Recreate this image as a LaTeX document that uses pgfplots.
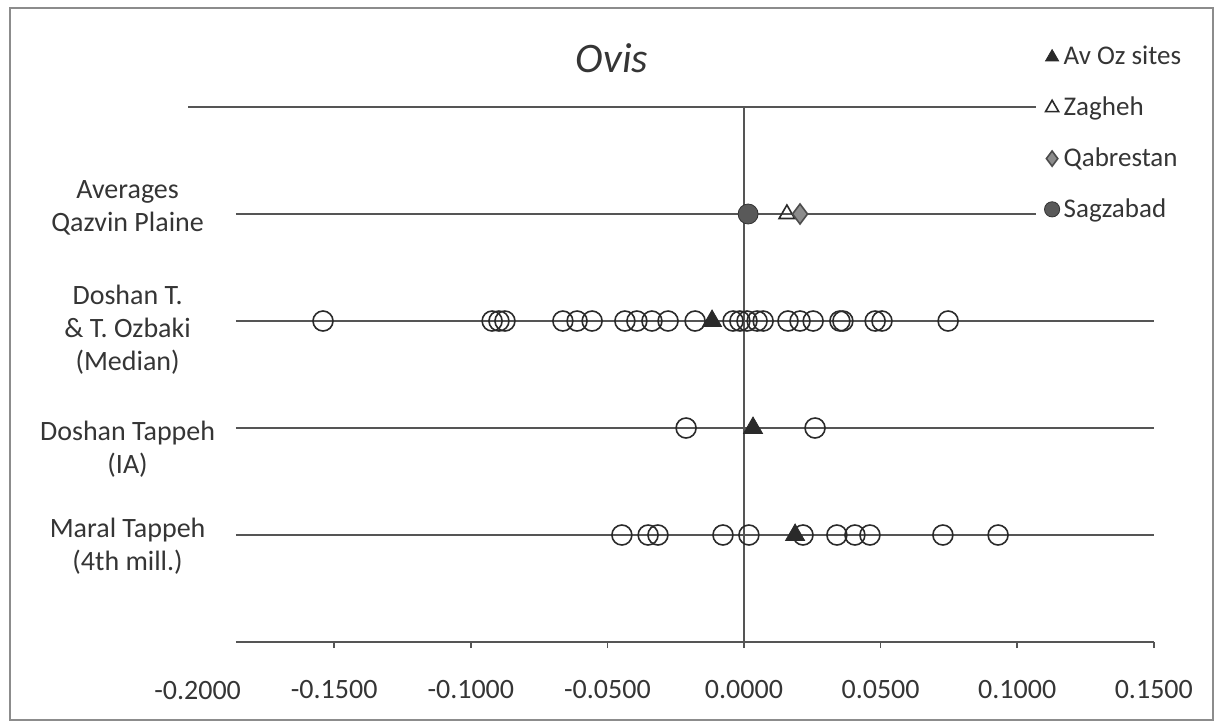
\documentclass[border=0pt]{standalone}
\usepackage{pgfplots}
\pgfplotsset{compat=1.18}
\usepackage{fontspec}
\setmainfont{Carlito}
\definecolor{txt}{HTML}{353535}
\definecolor{ln}{HTML}{555555}
\definecolor{mk}{HTML}{2A2A2A}
\begin{document}
\begin{tikzpicture}
\useasboundingbox (0,0) rectangle (609.5pt,-363.5pt);
\draw[color=black!45, line width=1pt] (5pt,-4pt) rectangle (606.5pt,-360pt);
\node[font=\itshape\fontsize{21}{25}\selectfont, text=txt] at (306pt,-29pt) {Ovis};
\begin{axis}[
  at={(98.8pt,-321pt)}, anchor=south west,
  scale only axis, width=478.1pt, height=267.5pt,
  xmin=-0.2, xmax=0.15, ymin=0, ymax=5,
  clip=false,
  axis line style={draw=none},
  xtick={-0.15,-0.1,-0.05,0,0.05,0.1,0.15},
  xticklabels={-0.1500,-0.1000,-0.0500,0.0000,0.0500,0.1000,0.1500},
  extra x ticks={-0.2}, extra x tick labels={-0.2000},
  extra x tick style={major tick length=0pt, xticklabel style={yshift=-3.5pt}},
  xtick pos=lower, tick align=outside, major tick length=3pt,
  xtick style={color=ln, line width=0.8pt},
  ytick={0.897,1.804,2.916,4.056}, ytick style={draw=none},
  yticklabels={{Maral Tappeh\\(4th mill.)},{Doshan Tappeh\\(IA)},{Doshan T.\\\& T. Ozbaki\\(Median)},{Averages\\Qazvin Plaine}},
  yticklabel style={align=center, anchor=center, xshift=-32pt},
  ticklabel style={font=\fontsize{14}{16.5}\selectfont, text=txt},
  xticklabel style={yshift=-12.5pt},
  legend cell align=left,
  legend image post style={mark size=3.8pt},
  legend style={at={(0.879,1.129)}, anchor=north west, draw=none, fill=none,
     font=\fontsize{13.5}{16}\selectfont, text=txt, row sep=10.5pt,
     /tikz/every even column/.append style={column sep=1pt}},
]
% horizontal guide lines and zero line
\addplot[ln, line width=1pt, forget plot] coordinates {(-0.2035,5) (0.107,5)};
\addplot[ln, line width=1pt, forget plot] coordinates {(-0.186,4) (0.107,4)};
\addplot[ln, line width=1pt, forget plot] coordinates {(-0.186,3) (0.15,3)};
\addplot[ln, line width=1pt, forget plot] coordinates {(-0.186,2) (0.15,2)};
\addplot[ln, line width=1pt, forget plot] coordinates {(-0.186,1) (0.15,1)};
\addplot[ln, line width=1pt, forget plot] coordinates {(-0.186,0) (0.15,0)};
\addplot[ln, line width=1pt, forget plot] coordinates {(0,0) (0,5)};
% individual specimens (open circles)
\addplot[only marks, mark=o, mark size=5pt, mark options={draw=mk, line width=0.8pt}, forget plot] coordinates {
(-0.1541,3) (-0.0922,3) (-0.0897,3) (-0.0875,3) (-0.0663,3) (-0.0611,3) (-0.0556,3)
(-0.0436,3) (-0.0392,3) (-0.0337,3) (-0.0278,3) (-0.0179,3) (-0.0040,3) (-0.0015,3)
(0.0011,3) (0.0048,3) (0.0070,3) (0.0161,3) (0.0205,3) (0.0253,3) (0.0351,3) (0.0362,3)
(0.0480,3) (0.0505,3) (0.0747,3)
(-0.0212,2) (0.0260,2)
(-0.0447,1) (-0.0351,1) (-0.0315,1) (-0.0077,1) (0.0018,1) (0.0216,1) (0.0340,1)
(0.0406,1) (0.0461,1) (0.0728,1) (0.0930,1)
};
% legend series
\addplot[only marks, mark=triangle*, mark size=5.5pt, mark options={draw=mk, fill=mk}] coordinates {(-0.0117,3) (0.0033,2) (0.0187,1)};
\addlegendentry{Av Oz sites}
\addplot[only marks, mark=triangle, mark size=4.5pt, mark options={draw=mk, fill=white, line width=0.8pt}] coordinates {(0.0157,4)};
\addlegendentry{Zagheh}
\addplot[only marks, mark=diamond*, mark size=5pt, mark options={draw=black!70, fill=black!45, line width=0.8pt}] coordinates {(0.0205,4)};
\addlegendentry{Qabrestan}
\addplot[only marks, mark=*, mark size=5pt, mark options={draw=black!80, fill=black!65}] coordinates {(0.0015,4)};
\addlegendentry{Sagzabad}
\end{axis}
\end{tikzpicture}
\end{document}
